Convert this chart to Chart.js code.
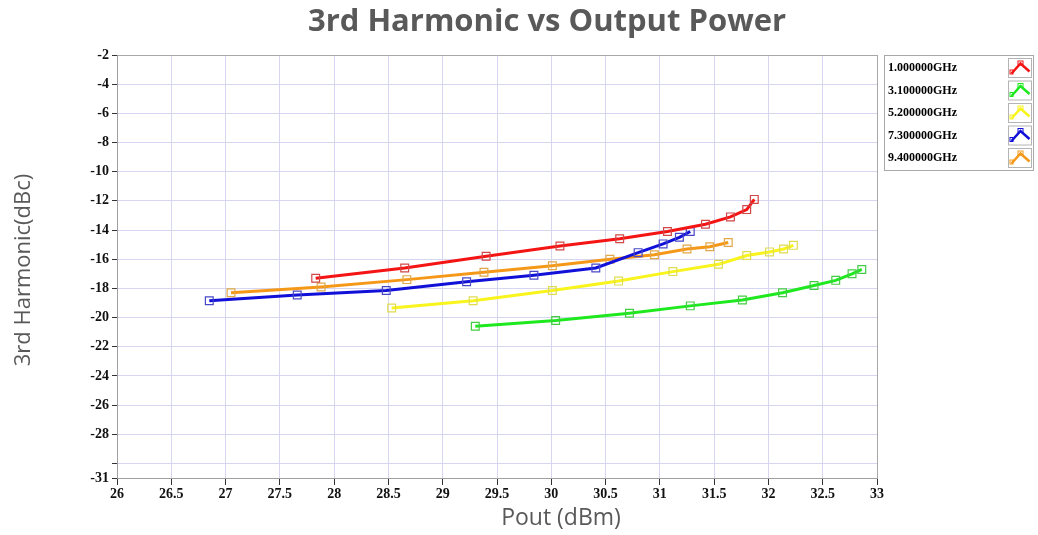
<!DOCTYPE html>
<html>
<head>
<meta charset="utf-8">
<script src="https://cdn.jsdelivr.net/npm/chart.js@4.4.0/dist/chart.umd.min.js"></script>
<style>
  html, body { margin: 0; padding: 0; background: #fff; }
  #wrap { width: 1038px; height: 535px; position: relative; }
</style>
</head>
<body>
<div id="wrap"><canvas id="chart"></canvas></div>
<script>
// 3rd harmonic (dBc) vs Pout (dBm), one sweep per frequency
const freqLabels = ["1.000000GHz", "3.100000GHz", "5.200000GHz", "7.300000GHz", "9.400000GHz"];

const pout1G = [27.83, 28.65, 29.40, 30.08, 30.63, 31.07, 31.42, 31.65, 31.80, 31.87];
const h3_1G  = [-17.3, -16.6, -15.8, -15.1, -14.6, -14.1, -13.6, -13.1, -12.6, -11.9];

const pout3G = [29.30, 30.04, 30.72, 31.28, 31.76, 32.13, 32.42, 32.62, 32.77, 32.86];
const h3_3G  = [-20.6, -20.2, -19.7, -19.2, -18.8, -18.3, -17.8, -17.45, -17.0, -16.7];

const pout5G = [28.53, 29.28, 30.01, 30.62, 31.12, 31.54, 31.80, 32.01, 32.14, 32.23];
const h3_5G  = [-19.35, -18.85, -18.15, -17.5, -16.85, -16.35, -15.75, -15.5, -15.3, -15.05];

const pout7G = [26.85, 27.66, 28.48, 29.22, 29.84, 30.41, 30.80, 31.03, 31.18, 31.28];
const h3_7G  = [-18.85, -18.45, -18.15, -17.55, -17.1, -16.6, -15.55, -14.95, -14.5, -14.1];

const pout9G = [27.05, 27.88, 28.67, 29.38, 30.01, 30.54, 30.95, 31.25, 31.46, 31.63];
const h3_9G  = [-18.3, -17.9, -17.4, -16.9, -16.45, -16.0, -15.7, -15.3, -15.15, -14.85];

const yTickValues = [-31, -30, -28, -26, -24, -22, -20, -18, -16, -14, -12, -10, -8, -6, -4, -2];

const lineColors   = ["#f41414", "#1ee81e", "#f8f41c", "#1010d8", "#f59818"];
const markerColors = ["#d04848", "#44cc44", "#e0dc50", "#4848c8", "#e0a848"];

const series = [[pout1G, h3_1G], [pout3G, h3_3G], [pout5G, h3_5G], [pout7G, h3_7G], [pout9G, h3_9G]];

const datasets = series.map((s, i) => ({
  label: freqLabels[i],
  data: s[0].map((x, k) => ({ x: x, y: s[1][k] })),
  borderColor: lineColors[i],
  borderWidth: 3,
  pointStyle: "rect",
  pointRadius: 5.5,
  pointBorderWidth: 1.2,
  pointBorderColor: markerColors[i],
  pointBackgroundColor: "rgba(0,0,0,0)",
  tension: 0,
  fill: false
}));

const FONT_TITLE = "'Open Sans', 'Liberation Sans', sans-serif";
const FONT_TICK = "'Liberation Serif', 'DejaVu Serif', serif";

// titles and the boxed legend, drawn on the canvas
const decorPlugin = {
  id: "decor",
  afterDraw(chart) {
    const ctx = chart.ctx;
    ctx.save();
    ctx.fillStyle = "#595959";
    ctx.textAlign = "center";
    ctx.textBaseline = "middle";
    ctx.font = "bold 31px " + FONT_TITLE;
    ctx.fillText("3rd Harmonic vs Output Power", 547, 22);
    ctx.font = "23px " + FONT_TITLE;
    ctx.fillText("Pout (dBm)", 561, 518);
    ctx.translate(24, 270);
    ctx.rotate(-Math.PI / 2);
    ctx.font = "22px " + FONT_TITLE;
    ctx.fillText("3rd Harmonic(dBc)", 0, 0);
    ctx.restore();

    // legend box
    ctx.save();
    ctx.fillStyle = "#fff";
    ctx.strokeStyle = "#a8a8a8";
    ctx.lineWidth = 1;
    ctx.fillRect(884.5, 55.5, 149, 115);
    ctx.strokeRect(884.5, 55.5, 149, 115);
    chart.data.datasets.forEach((ds, i) => {
      const cy = 68 + i * 22.5;
      ctx.fillStyle = "#000";
      ctx.textAlign = "left";
      ctx.textBaseline = "middle";
      ctx.font = "bold 12px " + FONT_TICK;
      ctx.fillText(ds.label, 888, cy);
      const bx = 1008.5, by = cy - 9.5, bw = 23, bh = 19;
      ctx.fillStyle = "#fff";
      ctx.strokeStyle = "#b4b4b4";
      ctx.strokeRect(bx, by, bw, bh);
      ctx.strokeStyle = ds.borderColor;
      ctx.lineWidth = 2.5;
      ctx.beginPath();
      ctx.moveTo(bx + 3, by + bh - 4);
      ctx.lineTo(bx + 12, by + 5);
      ctx.lineTo(bx + 21, by + bh - 6);
      ctx.stroke();
      ctx.lineWidth = 1;
      ctx.strokeRect(bx + 9.5, by + 2.5, 5, 4);
      ctx.strokeRect(bx + 1.5, by + bh - 7.5, 3, 4);
    });
    ctx.restore();
  }
};

new Chart(document.getElementById("chart").getContext("2d"), {
  type: "line",
  data: { datasets: datasets },
  options: {
    responsive: true,
    maintainAspectRatio: false,
    animation: false,
    layout: { padding: { left: 67, right: 161, top: 55, bottom: 27 } },
    plugins: { legend: { display: false }, tooltip: { enabled: false }, title: { display: false } },
    scales: {
      x: {
        type: "linear",
        min: 26,
        max: 33,
        afterFit: (s) => { s.height = 30; },
        ticks: {
          stepSize: 0.5,
          color: "#111",
          padding: 1,
          font: { family: FONT_TICK, size: 14, weight: "bold" },
          maxRotation: 0,
          callback: (v) => String(Math.round(v * 10) / 10)
        },
        grid: {
          color: (c) => (c.tick && c.tick.value === 33 ? "#a8a8a8" : "#d6d6f0"),
          tickColor: "#333",
          tickLength: 7,
          lineWidth: 1
        },
        border: { color: "#a0a0a0", width: 1 }
      },
      y: {
        type: "linear",
        min: -31,
        max: -2,
        afterFit: (s) => { s.width = 50; },
        afterBuildTicks: (s) => { s.ticks = yTickValues.map((v) => ({ value: v })); },
        ticks: {
          color: "#111",
          padding: 3,
          autoSkip: false,
          font: { family: FONT_TICK, size: 14, weight: "bold" },
          callback: (v) => (v === -30 ? "" : String(v))
        },
        grid: {
          color: (c) => (c.tick && c.tick.value === -2 ? "#a8a8a8" : "#d6d6f0"),
          tickColor: "#333",
          tickLength: 5,
          lineWidth: 1
        },
        border: { color: "#a0a0a0", width: 1 }
      }
    }
  },
  plugins: [decorPlugin]
});
</script>
</body>
</html>
